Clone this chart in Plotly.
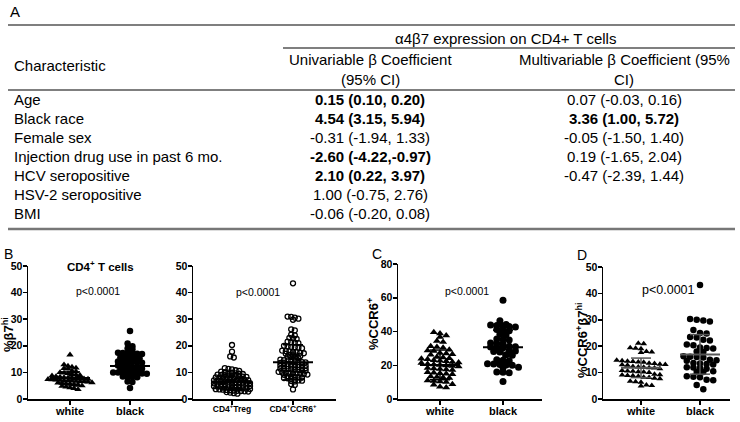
import plotly.graph_objects as go

W, H = 740, 422

# ---------------- Table (panel A) data ----------------
characteristics = ["Age", "Black race", "Female sex", "Injection drug use in past 6 mo.",
                   "HCV seropositive", "HSV-2 seropositive", "BMI"]
univariable = ["0.15 (0.10, 0.20)", "4.54 (3.15, 5.94)", "-0.31 (-1.94, 1.33)",
               "-2.60 (-4.22,-0.97)", "2.10 (0.22, 3.97)", "1.00 (-0.75, 2.76)",
               "-0.06 (-0.20, 0.08)"]
univariable_bold = [True, True, False, True, True, False, False]
multivariable = ["0.07 (-0.03, 0.16)", "3.36 (1.00, 5.72)", "-0.05 (-1.50, 1.40)",
                 "0.19 (-1.65, 2.04)", "-0.47 (-2.39, 1.44)", "", ""]
multivariable_bold = [False, True, False, False, False, False, False]

# ---------------- Panel B (left): %b7hi by race ----------------
b1_categories = ["white", "black"]
b1_white = [16.6, 12.9, 12.4, 12.0, 11.7, 11.5, 11.3, 10.5, 10.3, 10.0, 9.8, 9.6, 9.3, 9.1,
            8.9, 8.7, 8.5, 8.3, 8.1, 8.0, 7.9, 7.8, 7.7, 7.6, 7.5, 7.4, 7.3, 7.2, 7.1, 7.0,
            6.9, 6.8, 6.7, 6.6, 6.5, 6.4, 6.2, 6.1, 6.0, 5.8, 5.6, 5.4, 5.2, 5.0, 4.8, 4.6,
            4.3, 4.0, 3.6]
b1_black = [25.6, 20.9, 19.8, 19.0, 18.7, 17.4, 17.3, 17.2, 17.1, 17.0, 16.9, 15.6, 15.5,
            15.4, 15.3, 15.2, 14.1, 14.0, 13.9, 13.8, 13.7, 13.6, 12.6, 12.5, 12.4, 11.6,
            11.5, 11.4, 11.3, 11.2, 11.1, 10.2, 10.1, 10.0, 10.0, 9.9, 9.9, 9.8, 9.7, 9.6,
            9.5, 8.5, 8.4, 8.3, 8.2, 6.6, 6.4, 4.1]
b1_mean = [7.9, 12.4]
b1_sd = [2.3, 4.0]

# ---------------- Panel B (right): Treg vs CCR6+ ----------------
b2_categories = ["CD4<sup>+</sup>Treg", "CD4<sup>+</sup>CCR6<sup>+</sup>"]
b2_treg = [20.3, 17.8, 16.0, 15.6, 11.6, 11.3, 11.1, 10.8, 10.6, 10.3, 10.1,
           9.9, 9.8, 9.6, 9.5, 9.4, 9.2, 9.1, 9.0, 8.9, 8.8, 8.6, 8.5, 8.4, 8.3, 8.1,
           8.0, 7.9, 7.8, 7.7, 7.6, 7.4, 7.3, 7.2, 7.1, 7.0, 6.9, 6.8, 6.7, 6.6, 6.5,
           6.4, 6.3, 6.2, 6.1, 6.0, 5.9, 5.8, 5.7, 5.6, 5.5, 5.4, 5.3, 5.2, 5.1, 5.0,
           4.9, 4.8, 4.7, 4.6, 4.5, 4.4, 4.3, 4.2, 4.1, 4.0, 3.9, 3.8, 3.7, 3.6, 3.5,
           3.4, 3.3, 3.2, 3.1, 3.0, 2.9, 2.8, 2.6, 2.4, 2.2, 2.0]
b2_ccr6 = [43.5, 31.0, 30.9, 30.6, 30.2, 29.8, 26.2, 25.8, 24.2, 23.9, 23.0, 22.8, 22.6,
           21.6, 21.4, 21.2, 21.0, 20.0, 19.8, 19.6, 19.5, 19.3, 19.1, 18.2, 18.0, 17.9,
           17.7, 17.6, 17.4, 17.2, 17.0, 16.6, 16.4, 16.3, 16.1, 15.9, 15.8, 15.6, 15.4,
           14.8, 14.6, 14.5, 14.3, 14.2, 14.0, 13.9, 13.8, 13.6, 13.5, 13.2, 13.0, 12.9,
           12.8, 12.7, 12.6, 12.5, 12.4, 12.3, 12.2, 12.1, 12.0, 11.7, 11.6, 11.4, 11.3,
           11.2, 11.1, 11.0, 10.9, 10.7, 10.6, 10.2, 10.0, 9.9, 9.8, 9.7, 9.6, 9.5, 9.4,
           9.2, 9.1, 8.6, 8.4, 8.3, 8.2, 8.1, 7.9, 7.8, 7.6, 7.2, 7.0, 6.9, 6.8, 6.6,
           5.6, 5.3, 3.6]
b2_mean = [6.4, 13.8]
b2_sd = [3.0, 6.6]

# ---------------- Panel C: %CCR6+ by race ----------------
c_categories = ["white", "black"]
c_white = [39.5, 38.8, 37.6, 36.8, 34.3, 33.8, 31.2, 30.8, 30.4, 29.2, 28.8, 28.5,
           27.3, 26.9, 26.5, 26.2, 24.9, 24.6, 24.2, 23.8, 23.5, 22.9, 22.6, 22.3,
           22.0, 21.7, 21.4, 20.8, 20.5, 20.2, 19.9, 19.6, 19.3, 18.4, 18.1, 17.8,
           17.5, 17.2, 15.9, 15.6, 15.3, 15.0, 14.7, 13.4, 13.1, 12.8, 12.5, 11.0,
           10.7, 10.4, 10.1, 8.8, 8.4, 7.2, 6.8]
c_black = [58.5, 46.3, 44.2, 43.9, 43.6, 43.3, 43.0, 42.6, 41.2, 40.8, 40.5, 38.4, 38.1,
           35.6, 35.3, 35.0, 33.2, 32.9, 32.6, 31.3, 31.0, 30.8, 30.6, 30.3, 28.8, 28.5,
           28.2, 27.9, 26.2, 25.9, 23.3, 23.0, 22.7, 20.9, 20.7, 20.5, 20.2, 20.0, 18.8,
           18.5, 16.0, 15.8, 15.5, 10.3]
c_mean = [20.2, 30.6]
c_sd = [8.8, 10.2]

# ---------------- Panel D: %CCR6+b7hi by race ----------------
d_categories = ["white", "black"]
d_white = [21.1, 20.9, 19.4, 19.2, 19.0, 18.0, 17.8, 17.6, 14.7, 14.5, 14.3, 14.2, 14.0,
           13.9, 13.5, 13.4, 13.2, 13.1, 13.0, 12.8, 12.3, 12.1, 12.0, 11.8, 11.7, 11.5,
           10.8, 10.6, 10.5, 10.3, 10.2, 10.0, 9.4, 9.2, 9.1, 8.9, 8.8, 8.6, 8.2, 8.1,
           7.9, 7.7, 6.7, 6.5, 6.3, 5.3, 5.1, 4.9]
d_black = [43.2, 30.3, 30.0, 29.7, 29.4, 26.1, 25.0, 24.8, 23.5, 23.3, 22.4, 22.2, 20.6,
           20.4, 19.5, 19.3, 19.1, 18.0, 17.8, 16.2, 16.0, 15.9, 15.7, 14.9, 14.7, 14.5,
           13.6, 13.4, 13.3, 13.1, 12.0, 11.9, 11.7, 11.5, 10.5, 10.3, 10.2, 8.6, 8.4,
           8.2, 7.3, 7.1, 5.3, 3.7]
d_mean = [11.8, 16.9]
d_sd = [3.7, 7.5]

FONT = "Liberation Sans, Arial, Helvetica, sans-serif"


def px(x):
    return x / W


def py(y):
    return 1 - y / H


def swarm(values, center, bin_h, dx):
    """Arrange points in horizontal rows (Prism-like scatter dot plot)."""
    vals = sorted(values, reverse=True)
    rows, cur = [], []
    for v in vals:
        if cur and cur[0] - v >= bin_h:
            rows.append(cur)
            cur = []
        cur.append(v)
    if cur:
        rows.append(cur)
    xs, ys = [], []
    for r in rows:
        n = len(r)
        for i, v in enumerate(r):
            xs.append(center + (i - (n - 1) / 2) * dx)
            ys.append(v)
    return xs, ys


fig = go.Figure()

panels = [
    dict(ax="", box=(28, 183, 266, 399), cats=(70, 130), ymax=50, dtick=10),
    dict(ax="2", box=(193, 336, 266, 399), cats=(232, 293), ymax=50, dtick=10),
    dict(ax="3", box=(398, 542, 264, 399), cats=(440, 503), ymax=80, dtick=20),
    dict(ax="4", box=(603, 730, 267, 399), cats=(641, 700), ymax=50, dtick=10),
]

series = [
    (b1_white, b1_black, b1_mean, b1_sd, b1_categories,
     dict(sym=("triangle-up", "circle"), size=(6.5, 6.5), open=False, row=3.3,
          dx=(4.0, 4.8), ecol="black", tf=11)),
    (b2_treg, b2_ccr6, b2_mean, b2_sd, b2_categories,
     dict(sym=("circle-open", "circle-open"), size=(5, 5), open=True, row=2.8,
          dx=(3.6, 3.6), ecol="black", tf=8.5)),
    (c_white, c_black, c_mean, c_sd, c_categories,
     dict(sym=("triangle-up", "circle"), size=(7, 7), open=False, row=4.0,
          dx=(6.2, 6.2), ecol="black", tf=11)),
    (d_white, d_black, d_mean, d_sd, d_categories,
     dict(sym=("triangle-up", "circle"), size=(6, 6.5), open=False, row=4.4,
          dx=(5.4, 6.6), ecol="#555555", tf=11)),
]

layout_axes = {}
for p, (g0, g1, means, sds, cats, st) in zip(panels, series):
    xl, xr, yt, yb = p["box"]
    c0, c1 = p["cats"]
    k = c1 - c0
    x_range = [(xl - c0) / k, (xr - c0) / k]
    ppu = (yb - yt) / p["ymax"]
    xa = "x" + p["ax"]
    ya = "y" + p["ax"]
    for gi, grp in enumerate((g0, g1)):
        xs, ys = swarm(grp, gi, st["row"] / ppu, st["dx"][gi] / k)
        marker = dict(symbol=st["sym"][gi], size=st["size"][gi], color="black")
        if st["open"]:
            marker["line"] = dict(color="black", width=1.3)
        else:
            marker["line"] = dict(width=0)
        fig.add_trace(go.Scatter(x=xs, y=ys, mode="markers", marker=marker,
                                 xaxis=xa, yaxis=ya, showlegend=False,
                                 cliponaxis=False, hoverinfo="skip"))
        m, s = means[gi], sds[gi]
        mw = 20 / k
        cw = 10 / k
        fig.add_trace(go.Scatter(x=[gi - mw, gi + mw], y=[m, m], mode="lines",
                                 line=dict(color=st["ecol"], width=2), xaxis=xa, yaxis=ya,
                                 showlegend=False, hoverinfo="skip"))
        fig.add_trace(go.Scatter(x=[gi, gi, None, gi - cw, gi + cw, None, gi - cw, gi + cw],
                                 y=[m - s, m + s, None, m + s, m + s, None, m - s, m - s],
                                 mode="lines", line=dict(color=st["ecol"], width=1.5),
                                 xaxis=xa, yaxis=ya, showlegend=False, hoverinfo="skip"))
    key = p["ax"]
    layout_axes["xaxis" + key] = dict(
        domain=[px(xl), px(xr)], range=x_range, anchor=ya, showgrid=False, zeroline=False,
        showline=True, linecolor="black", linewidth=1.5, ticks="outside", ticklen=4,
        tickwidth=1.5, tickcolor="black", tickvals=[0, 1], ticktext=cats, automargin=False,
        ticklabelstandoff=-3,
        tickfont=dict(family=FONT, size=st["tf"], color="black", weight="bold"), fixedrange=True)
    layout_axes["yaxis" + key] = dict(
        domain=[py(yb), py(yt)], range=[0, p["ymax"]], anchor=xa, showgrid=False, zeroline=False,
        showline=True, linecolor="black", linewidth=1.5, ticks="outside", ticklen=4,
        tickwidth=1.5, tickcolor="black", dtick=p["dtick"], tick0=0, automargin=False,
        ticklabelstandoff=-2,
        tickfont=dict(family=FONT, size=10.5, color="black", weight="bold"), fixedrange=True)

annotations = []


def txt(x, y, s, size=15, bold=False, xanchor="left", angle=0, yanchor="middle"):
    annotations.append(dict(x=px(x), y=py(y), xref="paper", yref="paper", text=s,
                            showarrow=False, xanchor=xanchor, yanchor=yanchor,
                            textangle=angle,
                            font=dict(family=FONT, size=size, color="black",
                                      weight="bold" if bold else "normal")))


# ---- Table ----
txt(8, 12, "A", 15)
txt(505, 38, "α4β7 expression on CD4+ T cells", 15, xanchor="center")
txt(12, 66, "Characteristic", 15)
txt(370, 59, "Univariable β Coefficient", 15, xanchor="center")
txt(370, 80, "(95% CI)", 15, xanchor="center")
txt(624, 59, "Multivariable β Coefficient (95%", 15, xanchor="center")
txt(624, 80, "CI)", 15, xanchor="center")
row_y0, row_dy = 99, 19
for i, ch in enumerate(characteristics):
    y = row_y0 + i * row_dy
    txt(12, y, ch, 15)
    txt(370, y, univariable[i], 15, bold=univariable_bold[i], xanchor="center")
    if multivariable[i]:
        txt(624, y, multivariable[i], 15, bold=multivariable_bold[i], xanchor="center")

shapes = [
    dict(type="line", xref="paper", yref="paper", x0=px(8), x1=px(735), y0=py(25), y1=py(25),
         line=dict(color="#555555", width=1.3)),
    dict(type="line", xref="paper", yref="paper", x0=px(283), x1=px(735), y0=py(48), y1=py(48),
         line=dict(color="#555555", width=1.3)),
    dict(type="line", xref="paper", yref="paper", x0=px(8), x1=px(735), y0=py(90), y1=py(90),
         line=dict(color="#555555", width=1.3)),
    dict(type="line", xref="paper", yref="paper", x0=px(8), x1=px(735), y0=py(229), y1=py(229),
         line=dict(color="#777777", width=2.5)),
]

# ---- Panel labels & texts ----
txt(2, 254, "B", 14)
txt(100, 266, "CD4<sup>+</sup> T cells", 11.5, bold=True, xanchor="center")
txt(98, 291, "p<0.0001", 10.5, xanchor="center")
txt(258, 292, "p<0.0001", 10.5, xanchor="center")
txt(370, 254, "C", 14)
txt(467, 291, "p<0.0001", 10.5, xanchor="center")
txt(575, 255, "D", 14)
txt(668, 290, "p<0.0001", 12.5, xanchor="center")
txt(8, 335, "%β7<sup>hi</sup>", 13, bold=True, xanchor="center", angle=-90)
txt(373, 324, "%CCR6<sup>+</sup>", 13, bold=True, xanchor="center", angle=-90)
txt(582, 340, "%CCR6<sup>+</sup>β7<sup>hi</sup>", 13, bold=True, xanchor="center", angle=-90)

fig.update_layout(width=W, height=H, margin=dict(l=0, r=0, t=0, b=0, autoexpand=False),
                  paper_bgcolor="white", plot_bgcolor="white",
                  annotations=annotations, shapes=shapes, **layout_axes)

fig.write_html("out.html", config={"displayModeBar": False, "staticPlot": True},
               post_script="document.body.style.margin='0';document.body.style.padding='0';")
